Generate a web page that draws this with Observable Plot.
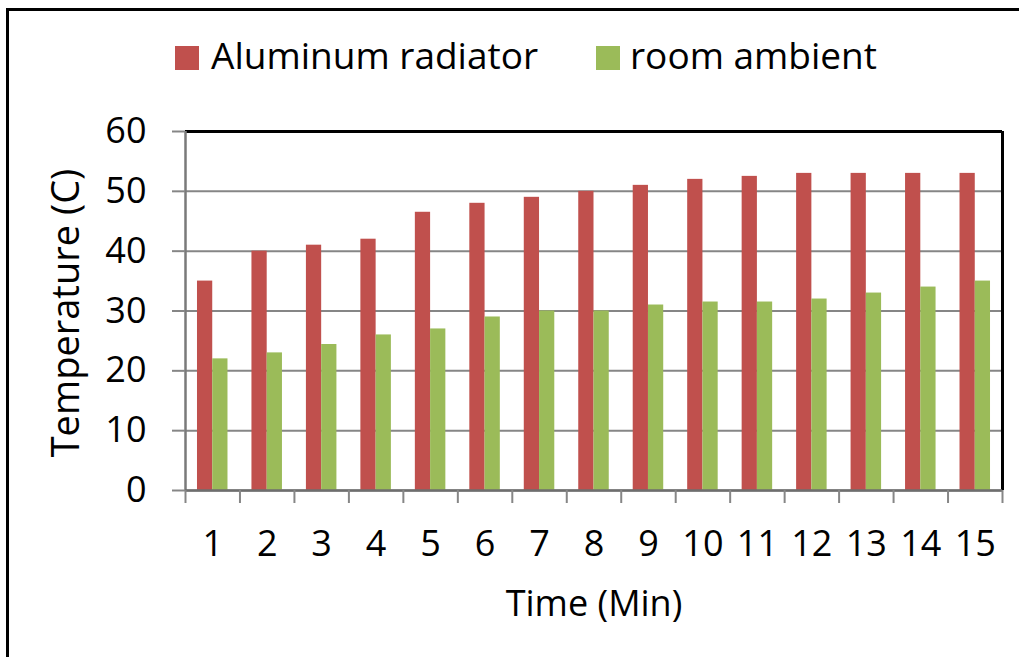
<!DOCTYPE html>
<html>
<head>
<meta charset="utf-8">
<script src="https://cdn.jsdelivr.net/npm/d3@7"></script>
<script src="https://cdn.jsdelivr.net/npm/@observablehq/plot@0.6"></script>
<style>
  html, body { margin: 0; padding: 0; background: #fff; overflow: hidden; }
  #wrap { position: relative; width: 1019px; height: 657px; overflow: hidden; font-family: "Open Sans", sans-serif; }
  #frame { position: absolute; left: 6px; top: 8px; width: 1100px; height: 800px; border: 3px solid #000; box-sizing: border-box; }
  #chart { position: absolute; left: 0; top: 0; }
  .leg { position: absolute; font-size: 37px; line-height: 37px; color: #000; white-space: nowrap; }
  .sw { position: absolute; width: 24px; height: 24px; }
</style>
</head>
<body>
<div id="wrap">
  <div id="frame"></div>
  <div id="chart"></div>
  <div id="legend"></div>
</div>
<script>
// ---- data ----
const times = [1, 2, 3, 4, 5, 6, 7, 8, 9, 10, 11, 12, 13, 14, 15];
const seriesNames = ["Aluminum radiator", "room ambient"];
const aluminum = [35, 40, 41, 42, 46.5, 48, 49, 50, 51, 52, 52.5, 53, 53, 53, 53];
const ambient  = [22, 23, 24.4, 26, 27, 29, 30, 30, 31, 31.5, 31.5, 32, 33, 34, 35];
const yTicks = [0, 10, 20, 30, 40, 50, 60];
const colors = ["#C0504D", "#9BBB59"];
const xTitle = "Time (Min)";
const yTitle = "Temperature (C)";

// each bar occupies this share of a category (in x units)
const barW = 0.28;
const rows = times.flatMap((t, i) => [
  {t, series: seriesNames[0], value: aluminum[i], x1: t - barW, x2: t},
  {t, series: seriesNames[1], value: ambient[i], x1: t, x2: t + barW}
]);
const boundaries = [times[0] - 0.5, ...times.map(t => t + 0.5)];

const chart = Plot.plot({
  width: 1019,
  height: 657,
  marginLeft: 185,
  marginRight: 17,
  marginTop: 131,
  marginBottom: 167,
  style: {fontFamily: "Open Sans", fontSize: "36px", color: "#000", background: "transparent"},
  x: {domain: [boundaries[0], boundaries[boundaries.length - 1]]},
  y: {domain: [0, 60]},
  color: {domain: seriesNames, range: colors},
  marks: [
    Plot.gridY(yTicks, {stroke: "#868686", strokeOpacity: 1, strokeWidth: 2}),
    Plot.rectY(rows, {x1: "x1", x2: "x2", y: "value", fill: "series"}),
    Plot.ruleY([60], {stroke: "#000", strokeWidth: 3}),
    Plot.ruleX([boundaries[boundaries.length - 1]], {stroke: "#000", strokeWidth: 3}),
    Plot.ruleX([boundaries[0]], {stroke: "#7a7a7a", strokeWidth: 2.5}),
    Plot.ruleY([0], {stroke: "#6e6e6e", strokeWidth: 2.5}),
    Plot.axisY(yTicks, {
      tickSize: 13, tickPadding: 26, stroke: "#868686", strokeWidth: 2, fill: "#000",
      fontSize: 36, label: null
    }),
    Plot.axisX(boundaries, {
      tickSize: 13, tickFormat: () => "", stroke: "#868686", strokeWidth: 2, label: null
    }),
    Plot.axisX(times, {
      tickSize: 0, tickPadding: 40, fill: "#000", fontSize: 36, label: null
    }),
    Plot.text([yTitle], {
      frameAnchor: "left", textAnchor: "middle", rotate: -90, lineAnchor: "top", dx: -133, dy: 2,
      fontSize: 38, fill: "#000"
    }),
    Plot.text([xTitle], {
      frameAnchor: "bottom", textAnchor: "middle", lineAnchor: "top", dy: 100,
      fontSize: 36, fill: "#000"
    })
  ]
});
document.getElementById("chart").appendChild(chart);

// legend (HTML), built from the same series arrays
const leg = document.getElementById("legend");
const legendPos = [{sx: 175, tx: 211}, {sx: 596, tx: 630}];
seriesNames.forEach((name, i) => {
  const sw = document.createElement("div");
  sw.className = "sw";
  sw.style.left = legendPos[i].sx + "px";
  sw.style.top = "46px";
  sw.style.background = colors[i];
  leg.appendChild(sw);
  const tx = document.createElement("div");
  tx.className = "leg";
  tx.style.left = legendPos[i].tx + "px";
  tx.style.top = "36px";
  tx.textContent = name;
  leg.appendChild(tx);
});
</script>
</body>
</html>
